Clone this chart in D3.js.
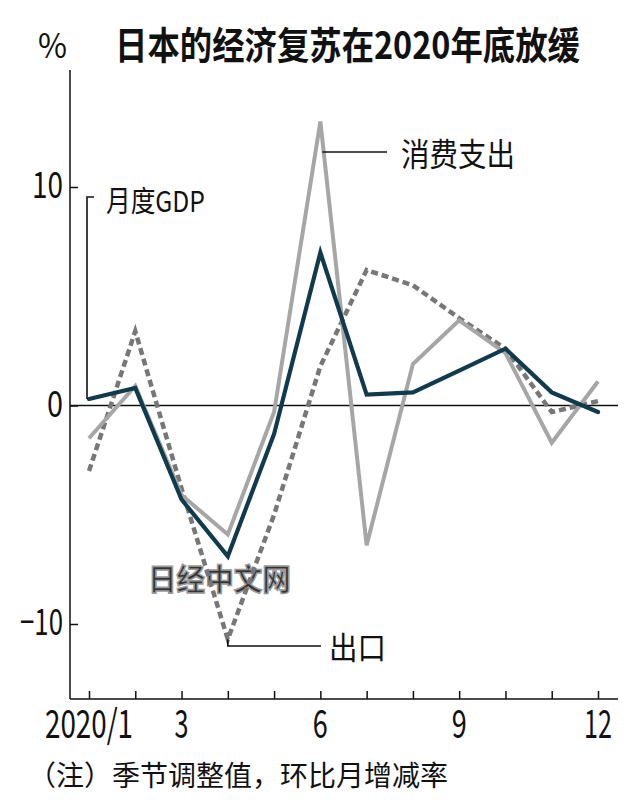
<!DOCTYPE html>
<html><head><meta charset="utf-8">
<script src="https://cdn.jsdelivr.net/npm/d3@7"></script>
<style>
html,body{margin:0;padding:0;background:#fff;}
svg{display:block;}
text{font-family:"Noto Sans CJK SC","Liberation Sans",sans-serif;fill:#111;}
</style></head>
<body>
<svg id="c" width="640" height="810"></svg>
<script>
const months = [1,2,3,4,5,6,7,8,9,10,11,12];
const gdp = [0.3, 0.8, -4.3, -6.9, -1.3, 7.0, 0.5, 0.6, 1.6, 2.6, 0.6, -0.3];
const consumption = [-1.5, 0.9, -4.1, -5.9, -0.3, 13.0, -6.4, 1.9, 3.9, 2.4, -1.7, 1.1];
const exportsS = [-3.0, 3.4, -3.8, -10.7, -5.0, 1.8, 6.2, 5.5, 4.0, 2.6, -0.3, 0.2];
const yTicks = [-10, 0, 10];
const xTickVals = [1, 3, 6, 9, 12];
const xTickLabels = ["2020/1", "3", "6", "9", "12"];
const title = "日本的经济复苏在2020年底放缓";
const note = "（注）季节调整值，环比月增减率";

const svg = d3.select("#c");
svg.append("rect").attr("width",640).attr("height",810).attr("fill","#fff");

const x = d3.scaleLinear().domain([1,12]).range([89,598]);
const y = d3.scaleLinear().domain([-10,10]).range([624,187]);
const axX = 70, axRight = 618, axBottom = 699, axTop = 70;

// place a text horizontally condensed to a given width; anchor: "start" | "middle" | "end"
function fitText(parent, str, px, py, size, width, anchor, opts) {
  const g = parent.append("g");
  const t = g.append("text").attr("x",0).attr("y",0).attr("font-size",size).text(str);
  if (opts) Object.entries(opts).forEach(([k,v]) => t.attr(k,v));
  const w = t.node().getComputedTextLength();
  const s = Math.min(1, width / w);
  const ox = anchor === "middle" ? px - w*s/2 : anchor === "end" ? px - w*s : px;
  g.attr("transform", `translate(${ox},${py}) scale(${s},1)`);
  return t;
}

// title
fitText(svg, title, 115, 59, 38, 465, "start", {"font-weight":"bold"});
fitText(svg, "%", 38, 58, 34, 29, "start", {"font-family":"Liberation Sans, sans-serif"});

// y axis
svg.append("line").attr("x1",axX).attr("x2",axX).attr("y1",axTop).attr("y2",axBottom)
  .attr("stroke","#111").attr("stroke-width",1.5);
const yAxis = d3.axisLeft(y).tickValues(yTicks).tickSizeInner(-8).tickSizeOuter(0).tickFormat("");
const gy = svg.append("g").attr("transform",`translate(${axX},0)`).call(yAxis);
gy.select(".domain").remove();
gy.selectAll(".tick line").attr("stroke","#111").attr("stroke-width",1.5);
yTicks.forEach(v => {
  fitText(svg, d3.format("d")(v), 63, y(v) + 11, 36, v === 0 ? 16 : (v > 0 ? 31 : 43), "end",
    {"font-family":"Liberation Sans, sans-serif"});
});

// zero line
svg.append("line").attr("x1",axX).attr("x2",axRight).attr("y1",y(0)).attr("y2",y(0))
  .attr("stroke","#111").attr("stroke-width",1.5);

// x axis
svg.append("line").attr("x1",axX).attr("x2",axRight).attr("y1",axBottom).attr("y2",axBottom)
  .attr("stroke","#111").attr("stroke-width",1.5);
const xAxis = d3.axisBottom(x).tickValues(months).tickSizeInner(-8).tickSizeOuter(0).tickFormat("");
const gx = svg.append("g").attr("transform",`translate(0,${axBottom})`).call(xAxis);
gx.select(".domain").remove();
gx.selectAll(".tick line").attr("stroke","#111").attr("stroke-width",1.5);
const lblW = {"2020/1":88, "3":14, "6":15, "9":15, "12":28};
xTickVals.forEach((v,i) => {
  fitText(svg, xTickLabels[i], x(v), 738, 39, lblW[xTickLabels[i]], "middle",
    {"font-family":"Liberation Sans, sans-serif"});
});

// watermark
fitText(svg, "日经中文网", 148, 590, 30, 143, "start",
  {"font-weight":"bold","fill":"#fff","stroke":"#8a8a8a","stroke-width":1.6,"opacity":0.85});

// lines
const line = d3.line().x((d,i)=>x(months[i])).y(d=>y(d));
svg.append("path").datum(exportsS).attr("d",line).attr("fill","none")
  .attr("stroke","#777").attr("stroke-width",4.5).attr("stroke-dasharray","7,4");
svg.append("path").datum(consumption).attr("d",line).attr("fill","none")
  .attr("stroke","#a6a6a6").attr("stroke-width",4).attr("stroke-linejoin","miter");
svg.append("path").datum(gdp).attr("d",line).attr("fill","none")
  .attr("stroke","#0f3b4c").attr("stroke-width",4.2).attr("stroke-linecap","round");

// leader lines & labels
const lw = 1.6;
svg.append("path").attr("d",`M${x(1)-2},${y(gdp[0])} V197 H94`).attr("fill","none").attr("stroke","#111").attr("stroke-width",lw);
fitText(svg, "月度GDP", 106, 212, 29, 99, "start");

svg.append("path").attr("d",`M${x(6)+2},152 H387`).attr("fill","none").attr("stroke","#111").attr("stroke-width",lw);
fitText(svg, "消费支出", 401, 166, 32, 114, "start");

svg.append("path").attr("d",`M${x(4)},${y(exportsS[3])} V646 H321`).attr("fill","none").attr("stroke","#111").attr("stroke-width",lw);
fitText(svg, "出口", 329, 659, 31, 57, "start");

// note
fitText(svg, note, 28, 786, 28, 430, "start");
</script>
</body></html>
